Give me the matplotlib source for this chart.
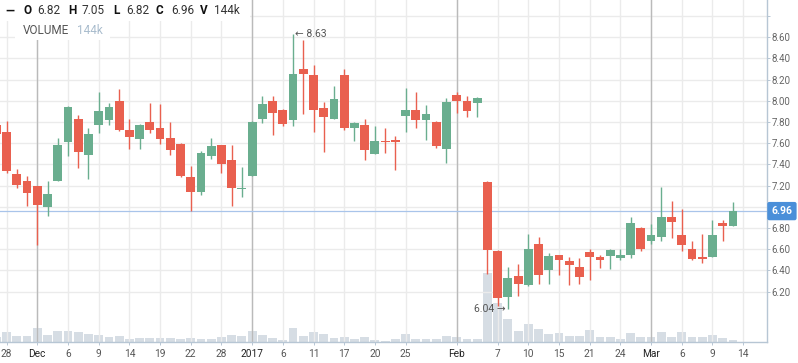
import numpy as np
import pandas as pd
import matplotlib
matplotlib.use("Agg")
import matplotlib.pyplot as plt
from matplotlib.patches import Rectangle

plt.rcParams['font.family'] = ['Roboto', 'DejaVu Sans']

# ---- trading calendar (NYSE), Nov 25 2016 .. Mar 14 2017 ----
holidays = ['2016-11-24', '2016-12-26', '2017-01-02', '2017-01-16', '2017-02-20']
days = pd.bdate_range('2016-11-25', '2017-03-14')
days = days[~days.isin(pd.to_datetime(holidays))]
pos = np.arange(len(days)) - 1          # Nov 28 sits at 0

# ---- daily OHLC (Nov 25 .. Mar 13) ----
opens = [7.77, 7.71, 7.31, 7.24, 7.20, 7.00, 7.24, 7.61, 7.83, 7.49,
         7.77, 7.82, 8.00, 7.73, 7.64, 7.80, 7.74, 7.65, 7.59, 7.28,
         7.14, 7.48, 7.58, 7.44, 7.17, 7.29, 7.83, 8.00, 7.91, 7.82,
         8.30, 8.24, 7.93, 7.83, 8.24, 7.74, 7.77, 7.50, 7.62, 7.63,
         7.86, 7.91, 7.82, 7.80, 7.55, 8.06, 8.00, 7.98, 7.23, 6.58,
         6.15, 6.35, 6.26, 6.65, 6.40, 6.55, 6.49, 6.43, 6.57, 6.53,
         6.54, 6.52, 6.55, 6.80, 6.68, 6.72, 6.90, 6.73, 6.60, 6.53,
         6.53, 6.85, 6.82]
highs = [7.80, 7.81, 7.36, 7.29, 7.20, 7.24, 7.65, 7.95, 7.87, 7.74,
         8.08, 7.98, 8.11, 7.83, 7.78, 7.98, 7.97, 7.80, 7.60, 7.39,
         7.53, 7.65, 7.58, 7.58, 7.38, 7.81, 8.05, 8.05, 7.92, 8.63,
         8.57, 8.34, 7.99, 8.14, 8.30, 7.80, 7.83, 7.76, 7.74, 7.67,
         8.12, 8.08, 7.96, 7.81, 8.03, 8.08, 8.05, 8.04, 7.24, 6.59,
         6.43, 6.46, 6.74, 6.72, 6.56, 6.55, 6.53, 6.52, 6.60, 6.55,
         6.60, 6.60, 6.90, 6.81, 6.84, 7.19, 7.06, 6.98, 6.68, 6.74,
         6.88, 6.88, 7.05]
lows = [7.66, 7.32, 7.18, 7.01, 6.64, 6.91, 7.24, 7.48, 7.37, 7.26,
        7.70, 7.77, 7.72, 7.55, 7.55, 7.70, 7.59, 7.49, 7.28, 6.96,
        7.11, 7.45, 7.32, 7.01, 7.09, 7.29, 7.79, 7.68, 7.76, 7.76,
        7.88, 7.71, 7.52, 7.83, 7.73, 7.62, 7.44, 7.50, 7.51, 7.35,
        7.71, 7.74, 7.63, 7.56, 7.41, 7.89, 7.85, 7.85, 6.37, 6.06,
        6.04, 6.16, 6.25, 6.27, 6.27, 6.36, 6.26, 6.27, 6.31, 6.42,
        6.41, 6.50, 6.52, 6.58, 6.65, 6.68, 6.71, 6.58, 6.50, 6.47,
        6.53, 6.68, 6.82]
closes = [7.69, 7.34, 7.21, 7.13, 7.02, 7.12, 7.58, 7.94, 7.52, 7.69,
          7.90, 7.94, 7.73, 7.66, 7.77, 7.73, 7.64, 7.54, 7.29, 7.14,
          7.51, 7.57, 7.40, 7.18, 7.18, 7.80, 7.97, 7.89, 7.78, 8.25,
          8.25, 7.91, 7.85, 8.02, 7.74, 7.79, 7.54, 7.62, 7.61, 7.61,
          7.91, 7.82, 7.88, 7.57, 7.99, 8.00, 7.90, 8.03, 6.59, 6.14,
          6.33, 6.27, 6.60, 6.36, 6.54, 6.50, 6.45, 6.34, 6.53, 6.50,
          6.59, 6.55, 6.85, 6.60, 6.73, 6.90, 6.86, 6.64, 6.51, 6.51,
          6.73, 6.82, 6.96]
# volume in thousands of shares
volumes = [350, 640, 415, 415, 910, 475, 700, 700, 665, 540,
           475, 350, 415, 205, 290, 290, 290, 290, 230, 290,
           205, 230, 350, 475, 415, 700, 475, 290, 165, 910,
           415, 640, 540, 290, 350, 230, 350, 165, 95, 215,
           515, 205, 205, 205, 390, 330, 205, 205, 4280, 2455,
           1470, 700, 1135, 825, 515, 575, 390, 390, 765, 330,
           330, 205, 575, 330, 330, 640, 330, 640, 330, 330,
           455, 265, 144]

# ---- axis ticks ----
tick_dates = ['2016-11-28', '2016-12-01', '2016-12-06', '2016-12-09', '2016-12-14',
              '2016-12-19', '2016-12-22', '2016-12-28', '2017-01-03', '2017-01-06',
              '2017-01-11', '2017-01-17', '2017-01-20', '2017-01-25', '2017-02-01',
              '2017-02-07', '2017-02-10', '2017-02-15', '2017-02-21', '2017-02-24',
              '2017-03-01', '2017-03-06', '2017-03-09', '2017-03-14']
tick_labels = ['28', 'Dec', '6', '9', '14', '19', '22', '28', '2017', '6',
               '11', '17', '20', '25', 'Feb', '7', '10', '15', '21', '24',
               'Mar', '6', '9', '14']
month_labels = ['Dec', '2017', 'Feb', 'Mar']
price_ticks = [6.2, 6.4, 6.6, 6.8, 7.0, 7.2, 7.4, 7.6, 7.8, 8.0, 8.2, 8.4, 8.6, 8.8]
price_labels = ['6.20', '6.40', '6.60', '6.80', '', '7.20', '7.40', '7.60',
                '7.80', '8.00', '8.20', '8.40', '8.60', '']
last_price = 6.96

# ---- figure ----
W, H = 798, 363
fig = plt.figure(figsize=(W / 100, H / 100), dpi=100)
ax = fig.add_axes([0, 20.7 / H, 767 / W, 342.3 / H])
axv = ax.twinx()
ax.set_zorder(2)
axv.set_zorder(1)
ax.patch.set_visible(False)

RED, GREEN = '#e9604f', '#6aae8f'
AXC = '#b7c6d4'
n = len(opens)
x = pos[:n]
o, h, l, c = map(np.array, (opens, highs, lows, closes))
up = c >= o
cols = np.where(up, GREEN, RED)

# volume underneath
axv.bar(x, volumes, width=0.86, color='#d6dde4', linewidth=0)
axv.set_ylim(0, 342.3 * 62)
axv.yaxis.set_visible(False)
for s in axv.spines.values():
    s.set_visible(False)

# candles
ax.vlines(x, l, h, colors=cols, linewidth=1.0, zorder=3)
body = np.maximum(np.abs(c - o), 0.012)
ax.bar(x, body, bottom=np.minimum(o, c), width=0.86, color=cols, linewidth=0, zorder=4)

ax.set_xlim(-0.645, 74.33)
ax.set_ylim(5.722, 8.952)

# grid + month separators
tpos = [pos[days.get_loc(pd.Timestamp(d))] for d in tick_dates]
ax.set_xticks(tpos)
ax.set_xticklabels(tick_labels)
ax.set_yticks(price_ticks)
ax.set_yticklabels(price_labels)
ax.set_axisbelow(True)
ax.grid(True, color='#ebebeb', linewidth=1.0)
for t, lab in zip(tpos, tick_labels):
    if lab in month_labels:
        ax.axvline(t, color='#bababa', linewidth=1.0, zorder=1)
ax.axhline(last_price, color='#a9c4ea', linewidth=0.9, zorder=1.5)

ax.yaxis.tick_right()
ax.tick_params(axis='y', length=2.5, width=0.7, color=AXC, pad=1,
               labelsize=7, labelcolor='#666666')
ax.tick_params(axis='x', length=2.2, width=0.7, color=AXC, pad=2.5,
               labelsize=7.3, labelcolor='#555555')
for lab in ax.get_xticklabels():
    if lab.get_text() in month_labels:
        lab.set_color('#222222')
for side in ('left', 'top'):
    ax.spines[side].set_visible(False)
for side in ('right', 'bottom'):
    ax.spines[side].set_color(AXC)
    ax.spines[side].set_linewidth(1.0)

# last price tag
ax.annotate(f'{last_price:.2f}', xy=(1, last_price), xycoords=('axes fraction', 'data'),
            xytext=(3.2, 0), textcoords='offset points', ha='left', va='center',
            color='white', fontweight='bold', fontsize=7.5, annotation_clip=False,
            bbox=dict(boxstyle='round,pad=0.4,rounding_size=0.2', fc='#4a8fd9', ec='none'),
            zorder=10)

# high / low markers
hi = int(np.argmax(h))
lo = int(np.argmin(l))
ax.annotate(f'\u2190 {h[hi]:.2f}', xy=(x[hi], h[hi]), xytext=(1.5, 0), textcoords='offset points',
            ha='left', va='center', fontsize=7.5, color='#555555', zorder=6)
ax.annotate(f'{l[lo]:.2f} \u2192', xy=(x[lo], l[lo]), xytext=(-1.5, 0), textcoords='offset points',
            ha='right', va='center', fontsize=7.5, color='#555555', zorder=6)

# ---- legend header ----
def fx(px):
    return px / W

def fy(py):
    return 1 - py / H

fig.patches.append(Rectangle((0, fy(21)), fx(250), 21 / H, transform=fig.transFigure,
                             fc='white', ec='none', zorder=5))
fig.patches.append(Rectangle((fx(15), fy(40)), fx(95), 19 / H, transform=fig.transFigure,
                             fc='white', ec='none', zorder=5))

header = [('\u2014', 5, True), ('O', 23, True), (f'{o[-1]:.2f}', 37, False),
          ('H', 68, True), (f'{h[-1]:.2f}', 82, False), ('L', 113, True),
          (f'{l[-1]:.2f}', 126, False), ('C', 156, True), (f'{c[-1]:.2f}', 171, False),
          ('V', 200, True), (f'{volumes[-1]}k', 214, False)]
for txt, px, bold in header:
    fig.text(fx(px), fy(11), txt, ha='left', va='center', fontsize=8.5,
             fontweight='bold' if bold else 'normal',
             color='#111111' if bold else '#333333', zorder=6)
fig.text(fx(23), fy(31), 'VOLUME', ha='left', va='center', fontsize=8.5,
         color='#555555', zorder=6)
fig.text(fx(77), fy(31), f'{volumes[-1]}k', ha='left', va='center', fontsize=8.5,
         color='#a9bccd', zorder=6)

fig.savefig('out.png', dpi=100)
